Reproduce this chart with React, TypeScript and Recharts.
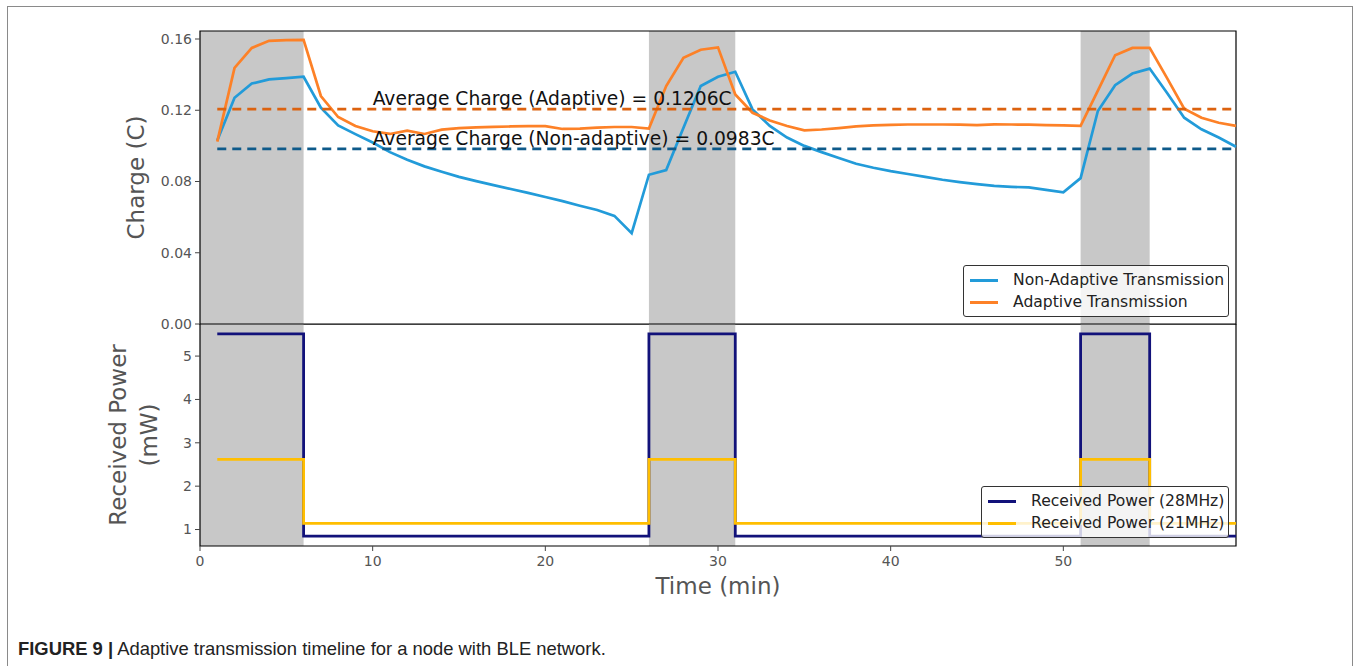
import React from "react";
import {
  ComposedChart,
  Line,
  XAxis,
  YAxis,
  ReferenceArea,
  ReferenceDot,
  Legend,
} from "recharts";

// time axis of the charge plot (minutes)
const minutes = [
  1, 2, 3, 4, 5, 6, 7, 8, 9, 10, 11, 12, 13, 14, 15, 16, 17, 18, 19, 20,
  21, 22, 23, 24, 25, 26, 27, 28, 29, 30, 31, 32, 33, 34, 35, 36, 37, 38, 39, 40,
  41, 42, 43, 44, 45, 46, 47, 48, 49, 50, 51, 52, 53, 54, 55, 56, 57, 58, 59, 60,
];

const nonAdaptive = [
  0.103, 0.127, 0.135, 0.1373, 0.138, 0.1388, 0.1214, 0.1115, 0.1066, 0.1019,
  0.0965, 0.0922, 0.0885, 0.0855, 0.0826, 0.0802, 0.078, 0.0758, 0.0736, 0.0713,
  0.069, 0.0664, 0.064, 0.0607, 0.051, 0.0838, 0.0864, 0.1102, 0.1336, 0.1388,
  0.1416, 0.1205, 0.1112, 0.1047, 0.1, 0.0965, 0.0932, 0.09, 0.0877, 0.0858,
  0.0842, 0.0826, 0.081, 0.0797, 0.0785, 0.0775, 0.077, 0.0767, 0.0753, 0.0739,
  0.0819, 0.1196, 0.1341, 0.1406, 0.1434, 0.1298, 0.1158, 0.1093, 0.1047, 0.0995,
];

const adaptive = [
  0.1024, 0.1438, 0.155, 0.159, 0.1594, 0.1595, 0.128, 0.1162, 0.1112, 0.1082,
  0.1067, 0.1086, 0.1067, 0.1091, 0.11, 0.1104, 0.1107, 0.1109, 0.1111, 0.1111,
  0.1095, 0.1097, 0.1102, 0.1106, 0.1106, 0.1097, 0.1336, 0.1494, 0.154, 0.1553,
  0.1289, 0.1186, 0.1143, 0.1112, 0.1087, 0.1092, 0.11, 0.111, 0.1115, 0.1118,
  0.112, 0.112, 0.112, 0.1119, 0.1117, 0.1121, 0.112, 0.1119, 0.1116, 0.1115,
  0.1112, 0.131, 0.1509, 0.155, 0.155, 0.1382, 0.1209, 0.1158, 0.113, 0.1112,
];

const avgAdaptive = 0.1206;
const avgNonAdaptive = 0.0983;

// charging windows (shaded)
const windowStarts = [0, 26, 51];
const windowEnds = [6, 31, 55];

// received power steps
const stepTimes = [1, 6, 26, 31, 51, 55, 60];
const power28 = [5.51, 0.85, 5.51, 0.85, 5.51, 0.85, 0.85];
const power21 = [2.62, 1.14, 2.62, 1.14, 2.62, 1.14, 1.14];

const chargeTicks = [0, 0.04, 0.08, 0.12, 0.16];
const powerTicks = [1, 2, 3, 4, 5];
const timeTicks = [0, 10, 20, 30, 40, 50];

const FONT = "DejaVu Sans";
const TICK = { fill: "#555", fontSize: 14, fontFamily: FONT };

const BLUE = "#229bd9";
const ORANGE = "#fd8127";
const AVG_ORANGE = "#dc620f";
const AVG_BLUE = "#0e5a8a";
const NAVY = "#12127a";
const AMBER = "#ffbe00";

function LegendBox({ items }: { items: { label: string; color: string }[] }) {
  return (
    <div
      style={{
        border: "1px solid #333",
        borderRadius: 3,
        background: "rgba(255,255,255,0.8)",
        padding: "3px 4px 3px 6px",
        fontFamily: FONT,
        fontSize: 15.6,
        color: "#222",
        whiteSpace: "nowrap",
      }}
    >
      {items.map((it) => (
        <div key={it.label} style={{ display: "flex", alignItems: "center", height: 22 }}>
          <span
            style={{ display: "inline-block", width: 28, height: 3, background: it.color, marginRight: 15 }}
          />
          {it.label}
        </div>
      ))}
    </div>
  );
}

function avgLabel(text: string) {
  return (p: any) => (
    <text x={p.viewBox.x} y={p.viewBox.y - 4} fill="#111" fontSize={18.7} fontFamily={FONT}>
      {text}
    </text>
  );
}

function yTitle(lines: string[], cx: number) {
  return (p: any) => {
    const cy = p.viewBox.y + p.viewBox.height / 2;
    const step = 31;
    const x0 = cx - ((lines.length - 1) * step) / 2;
    return (
      <g>
        {lines.map((l, i) => (
          <text
            key={l}
            x={x0 + i * step}
            y={cy}
            transform={`rotate(-90, ${x0 + i * step}, ${cy})`}
            textAnchor="middle"
            dominantBaseline="central"
            fill="#555"
            fontSize={23}
            fontFamily={FONT}
          >
            {l}
          </text>
        ))}
      </g>
    );
  };
}

export default function App() {
  const chargeData = minutes.map((t, i) => ({
    t,
    nonAdaptive: nonAdaptive[i],
    adaptive: adaptive[i],
    avgA: avgAdaptive,
    avgN: avgNonAdaptive,
  }));
  const powerData = stepTimes.map((t, i) => ({ t, p28: power28[i], p21: power21[i] }));
  const chargeDomain: [number, number] = [0, 0.1645];
  const powerDomain: [number, number] = [0.62, 5.74];

  return (
    <div
      style={{
        position: "absolute",
        left: 0,
        top: 0,
        width: 1354,
        height: 666,
        background: "#fff",
        overflow: "hidden",
        fontFamily: FONT,
      }}
    >
      <div
        style={{
          position: "absolute",
          left: 7,
          top: 6,
          width: 1344,
          height: 720,
          border: "1px solid #8a8a8a",
        }}
      />

      {/* top panel: plot spans y 31..324, extra bottom room keeps the 0.00 label whole */}
      <div style={{ position: "absolute", left: 0, top: 0 }}>
        <ComposedChart
          width={1354}
          height={340}
          data={chargeData}
          margin={{ top: 31, right: 118, bottom: 16, left: 0 }}
        >
          <XAxis dataKey="t" type="number" domain={[0, 60]} hide />
          <YAxis
            type="number"
            domain={chargeDomain}
            ticks={chargeTicks}
            interval={0}
            tickFormatter={(v: number) => v.toFixed(2)}
            width={200}
            axisLine={false}
            tickLine={{ stroke: "#444" }}
            tickSize={5}
            tickMargin={3}
            tick={TICK}
            label={{ content: yTitle(["Charge (C)"], 136) }}
          />
          {windowStarts.map((s, i) => (
            <ReferenceArea key={s} x1={s} x2={windowEnds[i]} y1={0} y2={chargeDomain[1]} fill="#c8c8c8" fillOpacity={1} stroke="none" />
          ))}
          <ReferenceArea x1={0} x2={60} y1={0} y2={chargeDomain[1]} fill="none" stroke="#000" strokeWidth={1.2} />
          <Line dataKey="nonAdaptive" stroke={BLUE} strokeWidth={2.7} dot={false} isAnimationActive={false} />
          <Line dataKey="adaptive" stroke={ORANGE} strokeWidth={2.7} dot={false} isAnimationActive={false} />
          <Line dataKey="avgA" stroke={AVG_ORANGE} strokeWidth={2.7} strokeDasharray="9 6" dot={false} isAnimationActive={false} />
          <Line dataKey="avgN" stroke={AVG_BLUE} strokeWidth={2.7} strokeDasharray="9 6" dot={false} isAnimationActive={false} />
          <ReferenceDot x={10} y={avgAdaptive} r={0} fill="none" stroke="none" label={avgLabel("Average Charge (Adaptive) = 0.1206C")} />
          <ReferenceDot x={10} y={avgNonAdaptive} r={0} fill="none" stroke="none" label={avgLabel("Average Charge (Non-adaptive) = 0.0983C")} />
          <Legend
            layout="vertical"
            align="center"
            verticalAlign="middle"
            wrapperStyle={{ left: 963, top: 265, width: "auto" }}
            content={() => (
              <LegendBox
                items={[
                  { label: "Non-Adaptive Transmission", color: BLUE },
                  { label: "Adaptive Transmission", color: ORANGE },
                ]}
              />
            )}
          />
        </ComposedChart>
      </div>

      <div style={{ position: "absolute", left: 0, top: 324 }}>
        <ComposedChart
          width={1354}
          height={290}
          data={powerData}
          margin={{ top: 0, right: 118, bottom: 0, left: 0 }}
        >
          <XAxis
            dataKey="t"
            type="number"
            domain={[0, 60]}
            ticks={timeTicks}
            interval={0}
            height={68}
            axisLine={false}
            tickLine={{ stroke: "#444" }}
            tickSize={5}
            tickMargin={5}
            tick={TICK}
            label={{
              content: (p: any) => (
                <text
                  x={p.viewBox.x + p.viewBox.width / 2}
                  y={p.viewBox.y + 40}
                  textAnchor="middle"
                  dominantBaseline="central"
                  fill="#555"
                  fontSize={23}
                  fontFamily={FONT}
                >
                  Time (min)
                </text>
              ),
            }}
          />
          <YAxis
            type="number"
            domain={powerDomain}
            ticks={powerTicks}
            interval={0}
            width={200}
            axisLine={false}
            tickLine={{ stroke: "#444" }}
            tickSize={5}
            tickMargin={3}
            tick={TICK}
            label={{ content: yTitle(["Received Power", "(mW)"], 133) }}
          />
          {windowStarts.map((s, i) => (
            <ReferenceArea key={s} x1={s} x2={windowEnds[i]} y1={powerDomain[0]} y2={powerDomain[1]} fill="#c8c8c8" fillOpacity={1} stroke="none" />
          ))}
          <ReferenceArea x1={0} x2={60} y1={powerDomain[0]} y2={powerDomain[1]} fill="none" stroke="#000" strokeWidth={1.2} />
          <Line type="stepAfter" dataKey="p28" stroke={NAVY} strokeWidth={2.8} dot={false} isAnimationActive={false} />
          <Line type="stepAfter" dataKey="p21" stroke={AMBER} strokeWidth={2.8} dot={false} isAnimationActive={false} />
          <Legend
            layout="vertical"
            align="center"
            verticalAlign="middle"
            wrapperStyle={{ left: 981, top: 162, width: "auto" }}
            content={() => (
              <LegendBox
                items={[
                  { label: "Received Power (28MHz)", color: NAVY },
                  { label: "Received Power (21MHz)", color: AMBER },
                ]}
              />
            )}
          />
        </ComposedChart>
      </div>

      <div
        style={{
          position: "absolute",
          left: 18,
          top: 638,
          fontFamily: "Liberation Sans",
          fontSize: 18.4,
          color: "#222",
          whiteSpace: "nowrap",
        }}
      >
        <b>FIGURE 9 |</b> Adaptive transmission timeline for a node with BLE network.
      </div>
    </div>
  );
}
